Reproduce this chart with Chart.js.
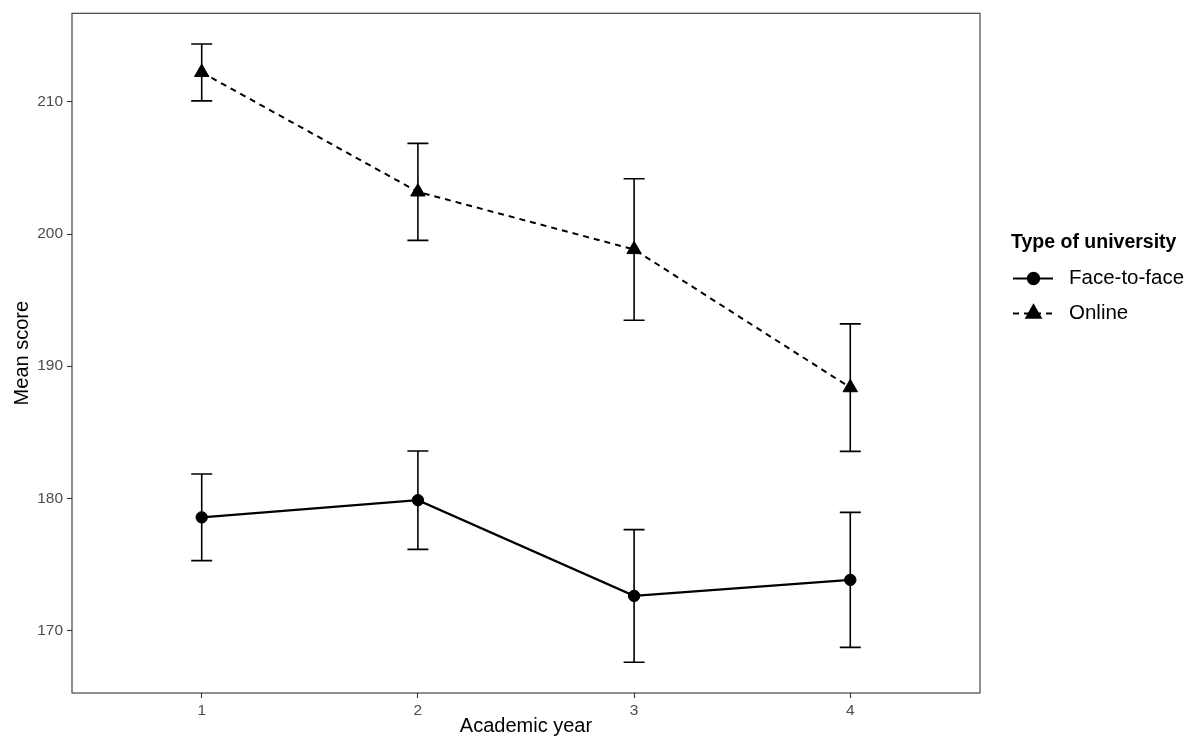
<!DOCTYPE html>
<html>
<head>
<meta charset="utf-8">
<script src="https://cdn.jsdelivr.net/npm/chart.js@4.4.1/dist/chart.umd.min.js"></script>
<style>
html,body{margin:0;padding:0;background:#ffffff;}
canvas{display:block;}
</style>
</head>
<body>
<canvas id="c" width="1200" height="748"></canvas>
<script>
// ---- data ----
const years = [1, 2, 3, 4];
const yearLabels = ['1', '2', '3', '4'];
const yTicks = [170, 180, 190, 200, 210];
const seriesNames = ['Face-to-face', 'Online'];
const faceMean = [178.56, 179.86, 172.62, 173.83];
const faceLow = [175.29, 176.14, 167.60, 168.72];
const faceHigh = [181.84, 183.58, 177.63, 178.94];
const onlineMean = [212.23, 203.19, 198.83, 188.38];
const onlineLow = [210.07, 199.52, 193.48, 183.55];
const onlineHigh = [214.38, 206.86, 204.18, 193.20];
const xTitle = 'Academic year';
const yTitle = 'Mean score';
const legendTitle = 'Type of university';

const FONT = '"Liberation Sans", Arial, Helvetica, sans-serif';
Chart.defaults.font.family = FONT;

function pts(xs, ys) { return xs.map((x, i) => ({ x: x, y: ys[i] })); }

const errorBars = {
  id: 'errorBars',
  beforeDatasetsDraw(chart) {
    const { ctx, scales: { x, y } } = chart;
    ctx.save();
    ctx.strokeStyle = '#000000';
    ctx.lineWidth = 1.6;
    ctx.setLineDash([]);
    const cap = 10.5;
    chart.data.datasets.forEach(ds => {
      ds.data.forEach((p, i) => {
        const px = x.getPixelForValue(p.x);
        const lo = y.getPixelForValue(ds.errLow[i]);
        const hi = y.getPixelForValue(ds.errHigh[i]);
        ctx.beginPath();
        ctx.moveTo(px, lo); ctx.lineTo(px, hi);
        ctx.moveTo(px - cap, lo); ctx.lineTo(px + cap, lo);
        ctx.moveTo(px - cap, hi); ctx.lineTo(px + cap, hi);
        ctx.stroke();
      });
    });
    ctx.restore();
  }
};

const panelBorder = {
  id: 'panelBorder',
  afterDraw(chart) {
    const { ctx, chartArea: a } = chart;
    ctx.save();
    ctx.strokeStyle = '#333333';
    ctx.lineWidth = 1.1;
    ctx.setLineDash([]);
    ctx.strokeRect(a.left, a.top, a.right - a.left, a.bottom - a.top);
    ctx.restore();
  }
};

const customLegend = {
  id: 'customLegend',
  afterDraw(chart) {
    const ctx = chart.ctx;
    ctx.save();
    ctx.fillStyle = '#000000';
    ctx.textAlign = 'left';
    ctx.textBaseline = 'middle';
    ctx.font = 'bold 19.5px ' + FONT;
    ctx.fillText(legendTitle, 1011, 243);
    chart.data.datasets.forEach((ds, i) => {
      const yy = 278.5 + i * 35;
      ctx.strokeStyle = '#000000';
      ctx.lineWidth = 2;
      ctx.setLineDash(ds.borderDash || []);
      ctx.beginPath();
      ctx.moveTo(1013, yy);
      ctx.lineTo(1053, yy);
      ctx.stroke();
      ctx.setLineDash([]);
      ctx.fillStyle = '#000000';
      Chart.helpers.drawPoint(ctx, {
        pointStyle: ds.pointStyle,
        radius: ds.pointRadius,
        borderWidth: 1,
        rotation: 0
      }, 1033.5, yy);
      ctx.fillStyle = '#000000';
      ctx.font = '20.5px ' + FONT;
      ctx.fillText(ds.label, 1069, yy);
    });
    ctx.restore();
  }
};

new Chart(document.getElementById('c'), {
  type: 'line',
  data: {
    datasets: [
      {
        label: seriesNames[0],
        data: pts(years, faceMean),
        errLow: faceLow,
        errHigh: faceHigh,
        borderColor: '#000000',
        backgroundColor: '#000000',
        borderWidth: 2.2,
        pointStyle: 'circle',
        pointRadius: 5.7,
        pointBorderWidth: 1,
        pointBackgroundColor: '#000000',
        pointBorderColor: '#000000',
        tension: 0,
        fill: false
      },
      {
        label: seriesNames[1],
        data: pts(years, onlineMean),
        errLow: onlineLow,
        errHigh: onlineHigh,
        borderColor: '#000000',
        backgroundColor: '#000000',
        borderWidth: 2,
        borderDash: [6, 5],
        pointStyle: 'triangle',
        pointRadius: 8.3,
        pointBorderWidth: 1,
        pointBackgroundColor: '#000000',
        pointBorderColor: '#000000',
        tension: 0,
        fill: false
      }
    ]
  },
  options: {
    responsive: false,
    animation: false,
    events: [],
    layout: { padding: { left: 0, top: 12, right: 220, bottom: 0 } },
    plugins: {
      legend: { display: false },
      tooltip: { enabled: false }
    },
    scales: {
      x: {
        type: 'linear',
        min: 0.4,
        max: 4.6,
        afterBuildTicks: s => { s.ticks = years.map(v => ({ value: v })); },
        afterFit: s => { s.height = 55; },
        ticks: {
          callback: (v, i) => yearLabels[i],
          color: '#4D4D4D',
          font: { size: 15.5 },
          padding: 3,
          maxRotation: 0,
          autoSkip: false
        },
        grid: { drawOnChartArea: false, drawTicks: true, tickLength: 5, color: '#333333', tickWidth: 1.1 },
        border: { display: false },
        title: { display: true, text: xTitle, color: '#000000', font: { size: 20 }, padding: { top: 0, bottom: 10 } }
      },
      y: {
        type: 'linear',
        min: 165.27,
        max: 216.70,
        afterBuildTicks: s => { s.ticks = yTicks.map(v => ({ value: v })); },
        afterFit: s => { s.width = 72; },
        ticks: {
          callback: v => String(v),
          color: '#4D4D4D',
          font: { size: 15.5 },
          padding: 4
        },
        grid: { drawOnChartArea: false, drawTicks: true, tickLength: 5, color: '#333333', tickWidth: 1.1 },
        border: { display: false },
        title: { display: true, text: yTitle, color: '#000000', font: { size: 20 }, padding: { top: 10, bottom: 0 } }
      }
    }
  },
  plugins: [errorBars, panelBorder, customLegend]
});
</script>
</body>
</html>
